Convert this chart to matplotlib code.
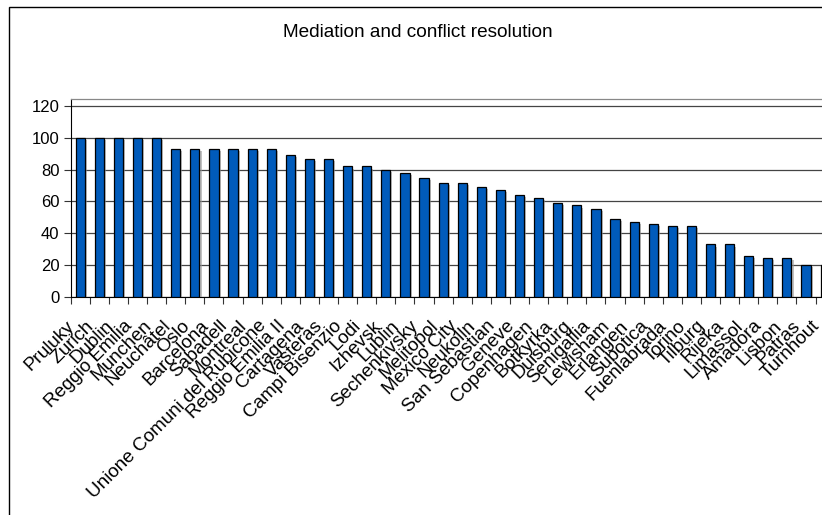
import numpy as np
import matplotlib.pyplot as plt
import matplotlib.patheffects as pe
import matplotlib.transforms as mtrans
from matplotlib.patches import Rectangle

# Cities and their scores
cities = [
    "Pruluky", "Zurich", "Dublin", "Reggio Emilia", "Munchen", "Neuchâtel",
    "Oslo", "Barcelona", "Sabadell", "Montreal", "Unione Comuni del Rubicone",
    "Reggio Emilia II", "Cartagena", "Vasteras", "Campi Bisenzio", "Lodi",
    "Izhevsk", "Lublin", "Sechenkivsky", "Melitopol", "Mexico City",
    "Neukolln", "San Sebastian", "Geneve", "Copenhagen", "Botkyrka",
    "Duisburg", "Senigallia", "Lewisham", "Erlangen", "Subotica",
    "Fuenlabrada", "Torino", "Tilburg", "Rijeka", "Limassol", "Amadora",
    "Lisbon", "Patras", "Turnhout",
]
scores = [
    100, 100, 100, 100, 100, 93, 93, 93, 93, 93, 93, 89, 87, 87, 82, 82,
    80, 78, 75, 71.5, 71.5, 69, 67, 64, 62, 59, 57.5, 55.5, 49, 47, 46,
    44.5, 44.5, 33, 33, 26, 24.5, 24.5, 20, 20,
]
yticks = [0, 20, 40, 60, 80, 100, 120]

plt.rcParams["font.family"] = ["Liberation Sans", "DejaVu Sans"]

fig = plt.figure(figsize=(8.22, 5.15), dpi=100)
ax = fig.add_axes([0.086, 0.4233, 0.9294, 0.3845])

x = np.arange(len(cities))
ax.bar(x, scores, width=0.48, color="#005BBB", edgecolor="black",
       linewidth=0.9, zorder=3,
       path_effects=[pe.SimplePatchShadow(offset=(1.5, -1.5), shadow_rgbFace="#999999", alpha=0.6),
                     pe.Normal()])

ax.set_xlim(-0.5, len(cities) - 0.5)
ax.set_ylim(0, 124.4)
ax.set_yticks(yticks)
ax.tick_params(axis="y", labelsize=12, length=5, width=0.8, pad=3, color="#333333")
ax.yaxis.grid(True, color="#444444", linewidth=0.9, zorder=0)

# labels sit under the bar centres, tick marks between categories
ax.set_xticks(x)
ax.set_xticklabels(cities, rotation=45, ha="right", va="center",
                   rotation_mode="anchor", fontsize=13.6)
ax.tick_params(axis="x", which="major", length=0, pad=19)
shift = mtrans.ScaledTranslation(-8 / 100, 0, fig.dpi_scale_trans)
for lbl in ax.get_xticklabels():
    lbl.set_transform(lbl.get_transform() + shift)
ax.set_xticks(np.arange(len(cities) + 1) - 0.5, minor=True)
ax.tick_params(axis="x", which="minor", length=5, width=0.8, color="#333333")

for side in ["top", "right"]:
    ax.spines[side].set_color("#888888")
    ax.spines[side].set_linewidth(0.9)
ax.spines["left"].set_color("black")
ax.spines["bottom"].set_color("black")

fig.text(418 / 822, 0.936, "Mediation and conflict resolution",
         ha="center", va="center", fontsize=13.7)

# chart border
fig.patches.append(Rectangle((9 / 822, -0.05), 1.1, 1 - 6.5 / 515 + 0.05,
                             transform=fig.transFigure, fill=False,
                             edgecolor="black", linewidth=1))

fig.savefig("out.png", dpi=100)
